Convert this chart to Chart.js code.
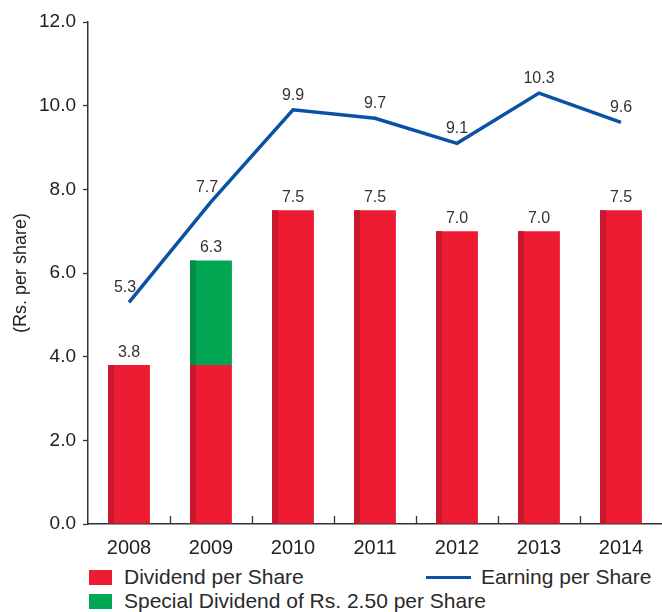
<!DOCTYPE html>
<html>
<head>
<meta charset="utf-8">
<script src="https://cdn.jsdelivr.net/npm/chart.js@4.4.1/dist/chart.umd.min.js"></script>
<style>
    body { margin: 0; background: #fff; }
    #wrap { position: relative; width: 662px; height: 612px; }
    #divChart { position: absolute; left: 0; top: 0; }
    .legend { position: absolute; font-family: 'Liberation Sans', Arial, sans-serif; font-size: 21px; color: #2a2a2a; white-space: nowrap; }
    .swatch { position: absolute; width: 23px; height: 15px; }
    .lineKey { position: absolute; width: 45px; height: 3px; background: #0a52a3; }
</style>
</head>
<body>
<div id="wrap">
    <canvas id="divChart" width="662" height="560"></canvas>
    <div class="swatch" style="left:89px; top:570px; background:#ed1c33;"></div>
    <div class="legend" style="left:124px; top:565px;">Dividend per Share</div>
    <div class="lineKey" style="left:426px; top:576px;"></div>
    <div class="legend" style="left:481px; top:565px;">Earning per Share</div>
    <div class="swatch" style="left:89px; top:594px; background:#00a651;"></div>
    <div class="legend" style="left:124px; top:589px;">Special Dividend of Rs. 2.50 per Share</div>
</div>
<script>
const years = ['2008', '2009', '2010', '2011', '2012', '2013', '2014'];
const dividend = [3.8, 3.8, 7.5, 7.5, 7.0, 7.0, 7.5];
const specialDividend = [null, 2.5, null, null, null, null, null];
const earning = [5.3, 7.7, 9.9, 9.7, 9.1, 10.3, 9.6];
const yTicks = [0, 2, 4, 6, 8, 10, 12];

const textColor = '#333';
const labelFont = "16px 'Liberation Sans Narrow', 'Liberation Sans', sans-serif";
const axisFont = "'Liberation Sans', Arial, sans-serif";

// darker strip down the left side of each bar, plus the value labels
const barDecor = {
    id: 'barDecor',
    afterDatasetsDraw(chart) {
        const ctx = chart.ctx;
        const stripColors = ['#c9182d', '#008d46'];
        ctx.save();
        [0, 1].forEach(di => {
            chart.getDatasetMeta(di).data.forEach((bar, i) => {
                if (chart.data.datasets[di].data[i] == null) return;
                const top = Math.min(bar.y, bar.base);
                ctx.fillStyle = stripColors[di];
                ctx.fillRect(bar.x - bar.width / 2, top, 6, Math.abs(bar.base - bar.y));
            });
        });

        ctx.fillStyle = textColor;
        ctx.font = labelFont;
        ctx.textAlign = 'center';
        ctx.textBaseline = 'alphabetic';
        // stack totals above the bars
        const yScale = chart.scales.y;
        const bars = chart.getDatasetMeta(0).data;
        bars.forEach((bar, i) => {
            const total = dividend[i] + (specialDividend[i] || 0);
            ctx.fillText(total.toFixed(1), bar.x, yScale.getPixelForValue(total) - 8);
        });
        // earnings labels above the line
        chart.getDatasetMeta(2).data.forEach((pt, i) => {
            const dx = i < 2 ? -4 : 0;
            ctx.fillText(earning[i].toFixed(1), pt.x + dx, pt.y - 10);
        });
        ctx.restore();
    },
    afterDraw(chart) {
        // x ticks point up into the plot at category boundaries
        const ctx = chart.ctx;
        const x = chart.scales.x;
        const bottom = chart.chartArea.bottom;
        const step = x.getPixelForValue(1) - x.getPixelForValue(0);
        ctx.save();
        ctx.strokeStyle = '#333';
        ctx.lineWidth = 1.3;
        for (let i = 1; i < years.length; i++) {
            const px = Math.round(x.getPixelForValue(i) - step / 2) + 0.5;
            ctx.beginPath();
            ctx.moveTo(px, bottom);
            ctx.lineTo(px, bottom - 8);
            ctx.stroke();
        }
        ctx.restore();
    }
};

new Chart(document.getElementById('divChart'), {
    data: {
        labels: years,
        datasets: [
            {
                type: 'bar',
                label: 'Dividend per Share',
                data: dividend,
                backgroundColor: '#ed1c33',
                stack: 'div',
                categoryPercentage: 1,
                barPercentage: 0.51,
                order: 2
            },
            {
                type: 'bar',
                label: 'Special Dividend of Rs. 2.50 per Share',
                data: specialDividend,
                backgroundColor: '#00a651',
                stack: 'div',
                categoryPercentage: 1,
                barPercentage: 0.51,
                order: 2
            },
            {
                type: 'line',
                label: 'Earning per Share',
                data: earning,
                borderColor: '#0a52a3',
                borderWidth: 3.5,
                pointRadius: 0,
                tension: 0,
                stack: 'eps',
                order: 1
            }
        ]
    },
    options: {
        responsive: false,
        animation: false,
        layout: { padding: { top: 22, right: 0, left: 0, bottom: 0 } },
        plugins: {
            legend: { display: false },
            tooltip: { enabled: false }
        },
        scales: {
            x: {
                stacked: true,
                offset: true,
                grid: { display: false, drawTicks: false },
                border: { color: '#333', width: 1.5 },
                ticks: {
                    color: '#222',
                    font: { family: axisFont, size: 20 },
                    padding: 12,
                    maxRotation: 0
                },
                afterFit(scale) { scale.height = 36; }
            },
            y: {
                stacked: true,
                min: 0,
                max: 12,
                afterBuildTicks(scale) { scale.ticks = yTicks.map(v => ({ value: v })); },
                grid: { drawOnChartArea: false, tickLength: 5, color: '#333', tickColor: '#333', tickWidth: 1.3 },
                border: { color: '#333', width: 1.5 },
                ticks: {
                    color: '#222',
                    font: { family: axisFont, size: 19 },
                    padding: 7,
                    callback: v => v.toFixed(1)
                },
                title: {
                    display: true,
                    text: '(Rs. per share)',
                    color: '#222',
                    font: { family: axisFont, size: 18 },
                    padding: { top: 10, bottom: 6 }
                },
                afterFit(scale) { scale.width = 88; }
            }
        }
    },
    plugins: [barDecor]
});
</script>
</body>
</html>
